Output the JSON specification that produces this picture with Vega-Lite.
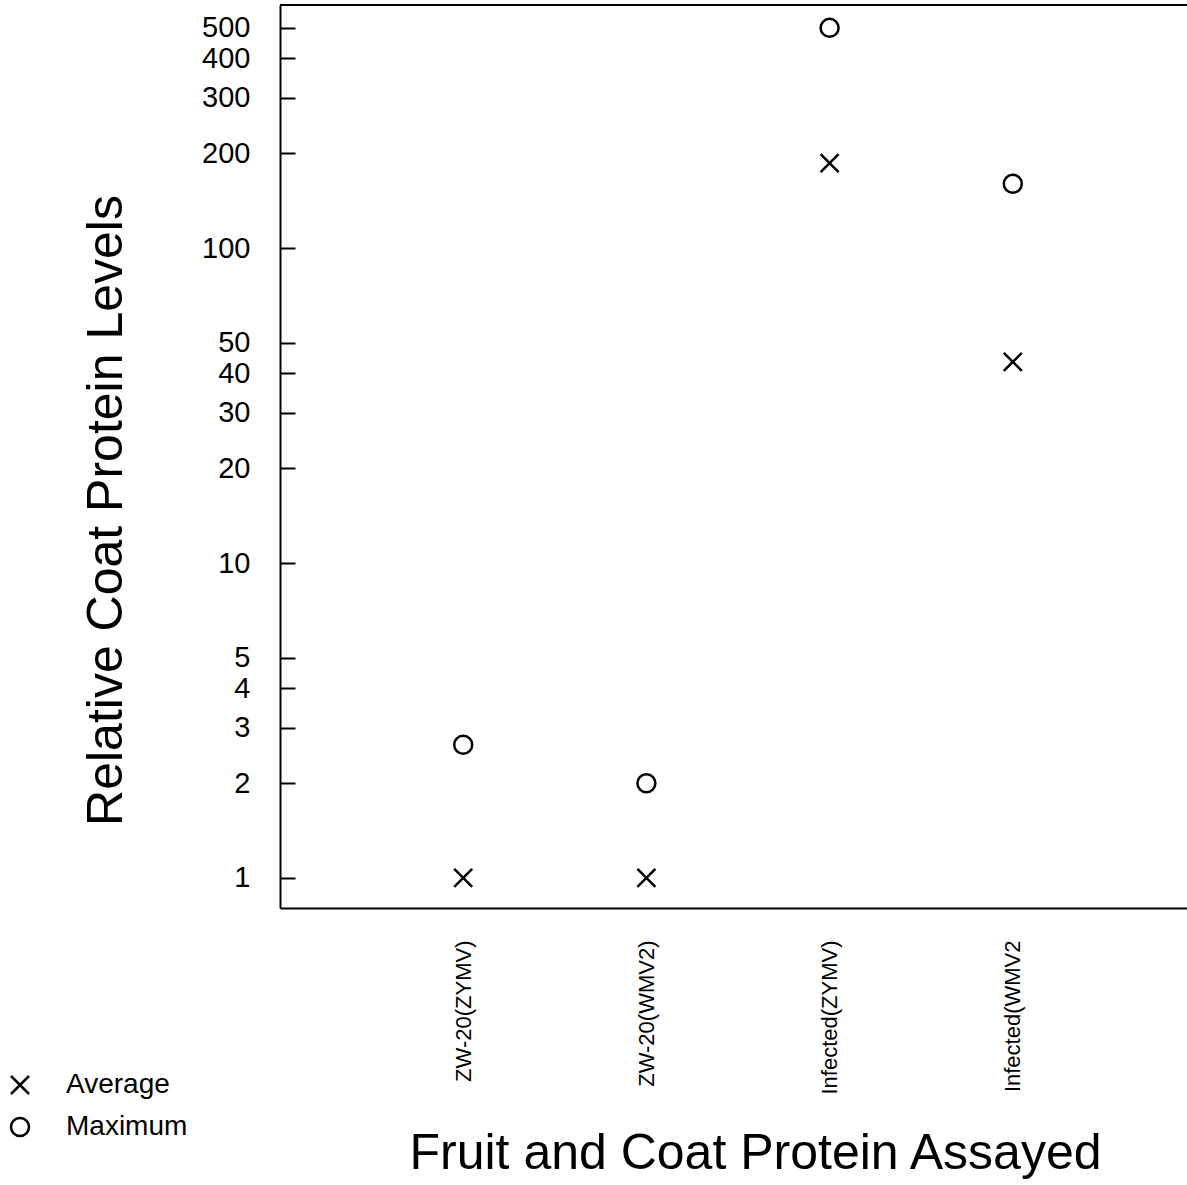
{
  "$schema": "https://vega.github.io/schema/vega-lite/v6.json",
  "width": 916,
  "height": 903,
  "autosize": {"type": "none"},
  "padding": {"left": 280, "top": 5, "right": -9, "bottom": 277},
  "background": "white",
  "config": {
    "view": {"stroke": null},
    "font": "Liberation Sans",
    "axis": {"domainColor": "black", "domainWidth": 2, "tickColor": "black", "labelColor": "black", "titleColor": "black", "grid": false, "titleFontWeight": "normal"},
    "legend": {"labelColor": "black"}
  },
  "data": {
    "values": [
      {"fruit": "ZW-20(ZYMV)", "series": "Average", "value": 1.0},
      {"fruit": "ZW-20(WMV2)", "series": "Average", "value": 1.0},
      {"fruit": "Infected(ZYMV)", "series": "Average", "value": 186},
      {"fruit": "Infected(WMV2", "series": "Average", "value": 43.5},
      {"fruit": "ZW-20(ZYMV)", "series": "Maximum", "value": 2.65},
      {"fruit": "ZW-20(WMV2)", "series": "Maximum", "value": 2.0},
      {"fruit": "Infected(ZYMV)", "series": "Maximum", "value": 500},
      {"fruit": "Infected(WMV2", "series": "Maximum", "value": 160}
    ]
  },
  "layer": [
    {
      "mark": {"type": "rule", "color": "black", "strokeWidth": 2},
      "encoding": {"y": {"datum": 591, "type": "quantitative", "scale": {"type": "log", "domain": [0.803, 591], "nice": false}}}
    },
    {
      "mark": {"type": "point", "filled": false, "color": "black", "strokeWidth": 2.5, "size": 324, "opacity": 1},
      "encoding": {
        "x": {
          "field": "fruit", "type": "nominal",
          "sort": ["ZW-20(ZYMV)", "ZW-20(WMV2)", "Infected(ZYMV)", "Infected(WMV2"],
          "scale": {"type": "point", "padding": 1},
          "axis": {
            "title": "Fruit and Coat Protein Assayed",
            "titleFontSize": 50,
            "titleX": 475, "titleY": 260, "titleBaseline": "alphabetic", "titleAlign": "center",
            "labelAngle": -90, "labelFontSize": 22, "labelPadding": 32,
            "ticks": false, "tickSize": 0, "labelOverlap": false, "labelLimit": 0
          }
        },
        "y": {
          "field": "value", "type": "quantitative",
          "scale": {"type": "log", "domain": [0.803, 591], "nice": false},
          "axis": {
            "title": "Relative Coat Protein Levels",
            "titleFontSize": 50, "titleAngle": -90,
            "titleX": -159, "titleY": 505, "titleBaseline": "alphabetic", "titleAlign": "center",
            "values": [1, 2, 3, 4, 5, 10, 20, 30, 40, 50, 100, 200, 300, 400, 500],
            "format": "d", "labelFontSize": 29, "labelPadding": 45,
            "tickSize": -15, "tickWidth": 2, "labelOverlap": false
          }
        },
        "shape": {
          "field": "series", "type": "nominal",
          "scale": {"domain": ["Average", "Maximum"], "range": ["M-1,-1L1,1M1,-1L-1,1", "circle"]},
          "legend": {
            "title": null, "orient": "none", "legendX": -274, "legendY": 1066,
            "labelFontSize": 28, "symbolSize": 324, "symbolStrokeWidth": 2.5,
            "symbolStrokeColor": "black", "symbolFillColor": "transparent",
            "labelOffset": 32, "rowPadding": 14, "padding": 0
          }
        }
      }
    }
  ]
}
